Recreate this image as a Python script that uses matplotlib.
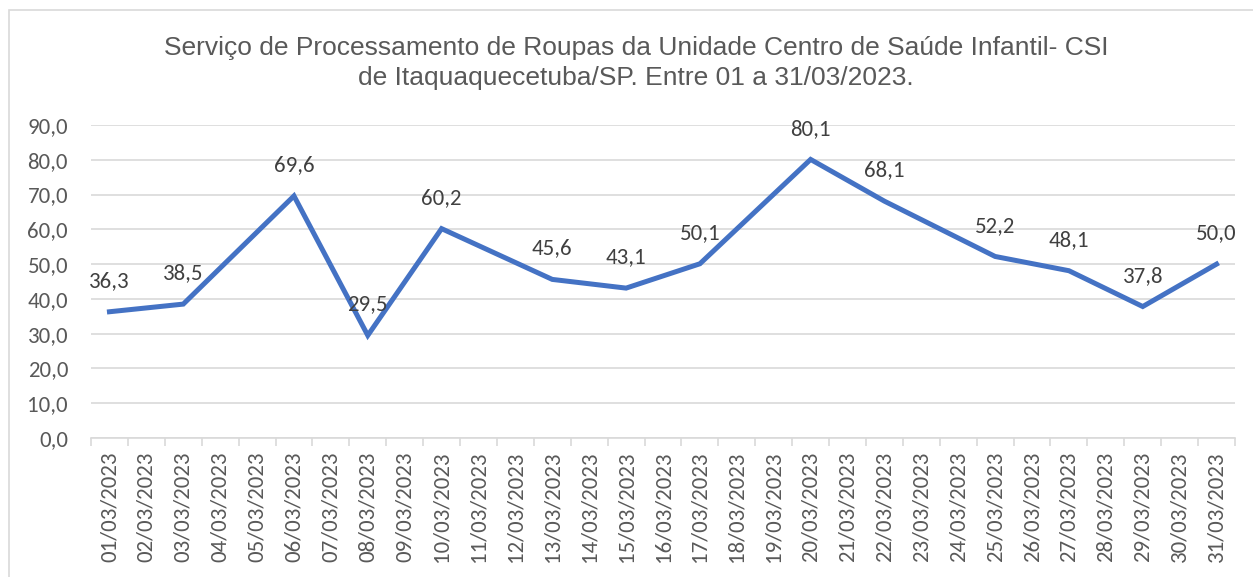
import matplotlib
matplotlib.use("Agg")
import matplotlib.pyplot as plt
from matplotlib.patches import Rectangle

title = "Serviço de Processamento de Roupas da Unidade Centro de Saúde Infantil- CSI\nde Itaquaquecetuba/SP. Entre 01 a 31/03/2023."
dates = [f"{d:02d}/03/2023" for d in range(1, 32)]
point_days = [1, 3, 6, 8, 10, 13, 15, 17, 20, 22, 25, 27, 29, 31]
values = [36.3, 38.5, 69.6, 29.5, 60.2, 45.6, 43.1, 50.1, 80.1, 68.1, 52.2, 48.1, 37.8, 50.0]
yticks = [0, 10, 20, 30, 40, 50, 60, 70, 80, 90]

LBL = "Carlito"
W, H = 1253, 577
fig = plt.figure(figsize=(W / 100, H / 100), dpi=100)
ax = fig.add_axes([91 / W, 1 - 438 / H, (1235 - 91) / W, (438 - 125) / H])

# outer chart border
fig.patches.append(Rectangle((9 / W, -0.1), 1.2, (577 - 10) / H + 0.1,
                             transform=fig.transFigure, fill=False,
                             edgecolor="#d9d9d9", linewidth=1.2))

xs = [d - 1 for d in point_days]
ax.plot(xs, values, color="#4472C4", linewidth=3.6, solid_joinstyle="miter", zorder=3)

fmt = lambda v: f"{v:.1f}".replace(".", ",")
for x, v in zip(xs, values):
    ax.annotate(fmt(v), (x, v), xytext=(0, 15), textcoords="offset points",
                ha="center", va="bottom", fontsize=16.5, color="#404040",
                family=LBL, zorder=4)

ax.set_xlim(-0.5, 30.5)
ax.set_ylim(0, 90)
ax.set_yticks(yticks)
ax.set_yticklabels([fmt(v) for v in yticks], fontsize=16.5, color="#595959", family=LBL)
ax.grid(axis="y", color="#d9d9d9", linewidth=1.2)
ax.set_axisbelow(True)
ax.tick_params(axis="y", length=0, pad=16.5)

ax.set_xticks(range(31))
ax.set_xticklabels(dates, rotation=90, fontsize=16.5, color="#595959", family=LBL)
ax.tick_params(axis="x", length=0, pad=10)
ax.set_xticks([i - 0.5 for i in range(32)], minor=True)
ax.tick_params(axis="x", which="minor", length=6, color="#d9d9d9", width=1.2)

for s in ["top", "right", "left"]:
    ax.spines[s].set_visible(False)
ax.spines["bottom"].set_color("#d9d9d9")
ax.spines["bottom"].set_linewidth(1.2)

fig.text(636 / W, 1 - 63 / H, title, ha="center", va="center", fontsize=19,
         color="#595959", family="Liberation Sans", linespacing=1.32)

fig.savefig("out.png", dpi=100)
